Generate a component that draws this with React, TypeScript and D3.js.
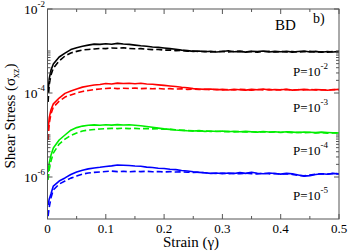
import React from 'react';
import * as d3 from 'd3';

// strain grid shared by all curves
const strain = [0.001, 0.003, 0.006,
  0.01, 0.02, 0.03, 0.04, 0.05, 0.06, 0.07, 0.08, 0.09, 0.10,
  0.11, 0.12, 0.13, 0.14, 0.15, 0.16, 0.17, 0.18, 0.19, 0.20,
  0.21, 0.22, 0.23, 0.24, 0.25, 0.26, 0.27, 0.28, 0.29, 0.30,
  0.31, 0.32, 0.33, 0.34, 0.35, 0.36, 0.37, 0.38, 0.39, 0.40,
  0.41, 0.42, 0.43, 0.44, 0.45, 0.46, 0.47, 0.48, 0.49, 0.50];

// P = 1e-2
const blackSolid = [1.06e-4, 2.2e-4, 3.5e-4,
  4.9e-4, 7.2e-4, 8.9e-4, 1.08e-3, 1.2e-3, 1.3e-3, 1.38e-3, 1.46e-3, 1.44e-3, 1.49e-3,
  1.45e-3, 1.52e-3, 1.47e-3, 1.44e-3, 1.38e-3, 1.33e-3, 1.3e-3, 1.25e-3, 1.22e-3, 1.18e-3,
  1.14e-3, 1.1e-3, 1.05e-3, 1.02e-3, 0.98e-3, 1.0e-3, 0.96e-3, 0.99e-3, 0.95e-3, 0.97e-3,
  1.01e-3, 0.96e-3, 0.98e-3, 0.94e-3, 0.99e-3, 0.97e-3, 1.0e-3, 0.95e-3, 0.98e-3, 0.96e-3,
  0.99e-3, 0.94e-3, 0.97e-3, 1.0e-3, 0.95e-3, 0.98e-3, 0.93e-3, 0.97e-3, 0.95e-3, 0.98e-3];
const blackDash = [6.1e-5, 1.6e-4, 2.7e-4,
  3.9e-4, 5.8e-4, 7.6e-4, 9.0e-4, 9.8e-4, 1.06e-3, 1.09e-3, 1.12e-3, 1.15e-3, 1.14e-3,
  1.18e-3, 1.16e-3, 1.19e-3, 1.15e-3, 1.13e-3, 1.14e-3, 1.1e-3, 1.08e-3, 1.09e-3, 1.05e-3,
  1.06e-3, 1.02e-3, 1.03e-3, 0.99e-3, 1.0e-3, 0.97e-3, 0.99e-3, 0.95e-3, 0.97e-3, 0.98e-3,
  0.95e-3, 0.97e-3, 0.99e-3, 0.96e-3, 0.97e-3, 0.94e-3, 0.97e-3, 0.98e-3, 0.95e-3, 0.97e-3,
  0.95e-3, 0.97e-3, 0.94e-3, 0.96e-3, 0.98e-3, 0.95e-3, 0.96e-3, 0.94e-3, 0.97e-3, 0.95e-3];

// P = 1e-3
const redSolid = [1.3e-5, 2.6e-5, 4.0e-5,
  5.5e-5, 7.6e-5, 9.8e-5, 1.12e-4, 1.24e-4, 1.38e-4, 1.47e-4, 1.55e-4, 1.6e-4, 1.68e-4,
  1.64e-4, 1.72e-4, 1.68e-4, 1.71e-4, 1.66e-4, 1.7e-4, 1.64e-4, 1.61e-4, 1.56e-4, 1.52e-4,
  1.47e-4, 1.43e-4, 1.37e-4, 1.33e-4, 1.27e-4, 1.25e-4, 1.22e-4, 1.24e-4, 1.19e-4, 1.22e-4,
  1.18e-4, 1.23e-4, 1.2e-4, 1.17e-4, 1.22e-4, 1.19e-4, 1.24e-4, 1.18e-4, 1.21e-4, 1.19e-4,
  1.23e-4, 1.17e-4, 1.2e-4, 1.22e-4, 1.18e-4, 1.21e-4, 1.19e-4, 1.16e-4, 1.2e-4, 1.22e-4];
const redDash = [7.6e-6, 1.9e-5, 3.2e-5,
  4.6e-5, 6.4e-5, 8.0e-5, 9.0e-5, 1.0e-4, 1.09e-4, 1.15e-4, 1.21e-4, 1.25e-4, 1.28e-4,
  1.31e-4, 1.27e-4, 1.3e-4, 1.28e-4, 1.31e-4, 1.27e-4, 1.29e-4, 1.26e-4, 1.28e-4, 1.25e-4,
  1.27e-4, 1.24e-4, 1.26e-4, 1.22e-4, 1.24e-4, 1.21e-4, 1.23e-4, 1.2e-4, 1.22e-4, 1.19e-4,
  1.21e-4, 1.18e-4, 1.22e-4, 1.2e-4, 1.17e-4, 1.21e-4, 1.19e-4, 1.22e-4, 1.18e-4, 1.2e-4,
  1.21e-4, 1.17e-4, 1.2e-4, 1.19e-4, 1.22e-4, 1.18e-4, 1.2e-4, 1.17e-4, 1.21e-4, 1.19e-4];

// P = 1e-4
const greenSolid = [1.3e-6, 2.2e-6, 3.3e-6,
  4.9e-6, 7.6e-6, 1.0e-5, 1.3e-5, 1.5e-5, 1.63e-5, 1.7e-5, 1.74e-5, 1.71e-5, 1.76e-5,
  1.72e-5, 1.77e-5, 1.73e-5, 1.75e-5, 1.7e-5, 1.66e-5, 1.6e-5, 1.53e-5, 1.46e-5, 1.4e-5,
  1.36e-5, 1.31e-5, 1.29e-5, 1.26e-5, 1.24e-5, 1.27e-5, 1.22e-5, 1.25e-5, 1.21e-5, 1.24e-5,
  1.2e-5, 1.23e-5, 1.19e-5, 1.22e-5, 1.2e-5, 1.17e-5, 1.21e-5, 1.18e-5, 1.2e-5, 1.16e-5,
  1.19e-5, 1.17e-5, 1.15e-5, 1.18e-5, 1.16e-5, 1.14e-5, 1.17e-5, 1.15e-5, 1.13e-5, 1.12e-5];
const greenDash = [8.5e-7, 1.5e-6, 2.4e-6,
  3.7e-6, 6.1e-6, 8.0e-6, 9.8e-6, 1.12e-5, 1.25e-5, 1.31e-5, 1.35e-5, 1.39e-5, 1.41e-5,
  1.44e-5, 1.42e-5, 1.45e-5, 1.42e-5, 1.44e-5, 1.41e-5, 1.43e-5, 1.4e-5, 1.42e-5, 1.38e-5,
  1.36e-5, 1.33e-5, 1.3e-5, 1.28e-5, 1.26e-5, 1.23e-5, 1.25e-5, 1.21e-5, 1.23e-5, 1.2e-5,
  1.22e-5, 1.19e-5, 1.21e-5, 1.18e-5, 1.2e-5, 1.17e-5, 1.19e-5, 1.16e-5, 1.18e-5, 1.15e-5,
  1.17e-5, 1.14e-5, 1.16e-5, 1.13e-5, 1.15e-5, 1.12e-5, 1.14e-5, 1.11e-5, 1.13e-5, 1.12e-5];

// P = 1e-5
const blueSolid = [2.15e-7, 3.0e-7, 4.0e-7,
  6.1e-7, 8.0e-7, 9.5e-7, 1.15e-6, 1.32e-6, 1.45e-6, 1.56e-6, 1.64e-6, 1.7e-6, 1.78e-6,
  1.84e-6, 1.93e-6, 1.9e-6, 1.88e-6, 1.83e-6, 1.8e-6, 1.72e-6, 1.69e-6, 1.62e-6, 1.6e-6,
  1.53e-6, 1.5e-6, 1.43e-6, 1.39e-6, 1.33e-6, 1.29e-6, 1.26e-6, 1.22e-6, 1.25e-6, 1.2e-6,
  1.24e-6, 1.21e-6, 1.27e-6, 1.22e-6, 1.3e-6, 1.23e-6, 1.2e-6, 1.25e-6, 1.21e-6, 1.17e-6,
  1.22e-6, 1.19e-6, 1.12e-6, 1.05e-6, 1.08e-6, 1.15e-6, 1.2e-6, 1.16e-6, 1.22e-6, 1.18e-6];
const blueDash = [1.17e-7, 1.9e-7, 3.2e-7,
  4.9e-7, 6.8e-7, 8.0e-7, 9.4e-7, 1.05e-6, 1.18e-6, 1.24e-6, 1.29e-6, 1.32e-6, 1.35e-6,
  1.38e-6, 1.34e-6, 1.37e-6, 1.33e-6, 1.36e-6, 1.34e-6, 1.37e-6, 1.33e-6, 1.35e-6, 1.32e-6,
  1.34e-6, 1.31e-6, 1.33e-6, 1.3e-6, 1.28e-6, 1.3e-6, 1.26e-6, 1.23e-6, 1.21e-6, 1.24e-6,
  1.2e-6, 1.22e-6, 1.19e-6, 1.23e-6, 1.2e-6, 1.18e-6, 1.22e-6, 1.19e-6, 1.21e-6, 1.17e-6,
  1.2e-6, 1.15e-6, 1.1e-6, 1.07e-6, 1.12e-6, 1.17e-6, 1.2e-6, 1.17e-6, 1.21e-6, 1.19e-6];

const xTicks = [0, 0.1, 0.2, 0.3, 0.4, 0.5];
const xMinor = [0.05, 0.15, 0.25, 0.35, 0.45];
const yLabelExp = [-2, -4, -6];
const yMinorBase = [1e-6, 1e-4];
const pLabels = [
  { exp: -2, y: 76 },
  { exp: -3, y: 112 },
  { exp: -4, y: 155 },
  { exp: -5, y: 200 },
];

const series = [
  { color: '#000000', solid: blackSolid, dash: blackDash },
  { color: '#ff0000', solid: redSolid, dash: redDash },
  { color: '#00ee00', solid: greenSolid, dash: greenDash },
  { color: '#0000ff', solid: blueSolid, dash: blueDash },
];

const W = 349;
const H = 252;
const left = 47.5, right = 339, top = 9, bottom = 219;
const font = '"Liberation Serif", "Times New Roman", serif';
const axisColor = '#555';

export default function App() {
  const x = d3.scaleLinear().domain([0, 0.5]).range([left, right]);
  const y = d3.scaleLog().domain([1e-7, 1e-2]).range([bottom, top]);

  const line = (vals: number[]) =>
    d3.line<number>()
      .x((_, i) => x(strain[i]))
      .y(d => y(d))(vals) || '';

  const minorY: number[] = [];
  yMinorBase.forEach(b => {
    for (let k = 2; k <= 10; k++) minorY.push(b * k);
  });

  return (
    <svg width={W} height={H} style={{ position: 'fixed', left: 0, top: 0, background: '#fff' }}
      fontFamily={font}>
      <rect x={0} y={0} width={W} height={H} fill="#fff" />

      {/* curves */}
      <g fill="none" strokeWidth={1.6} strokeLinejoin="round">
        {series.map((s, i) => (
          <g key={i} stroke={s.color}>
            <path d={line(s.dash)} strokeDasharray="6,3" />
            <path d={line(s.solid)} />
          </g>
        ))}
      </g>

      {/* frame */}
      <rect x={left} y={top} width={right - left} height={bottom - top}
        fill="none" stroke={axisColor} strokeWidth={1} />

      {/* ticks, pointing inward on all four sides */}
      <g stroke={axisColor} strokeWidth={1}>
        {xTicks.map(t => (
          <g key={t}>
            <line x1={x(t)} x2={x(t)} y1={bottom} y2={bottom - 5} />
            <line x1={x(t)} x2={x(t)} y1={top} y2={top + 5} />
          </g>
        ))}
        {xMinor.map(t => (
          <g key={t}>
            <line x1={x(t)} x2={x(t)} y1={bottom} y2={bottom - 3} />
            <line x1={x(t)} x2={x(t)} y1={top} y2={top + 3} />
          </g>
        ))}
        {yLabelExp.map(e => (
          <g key={e}>
            <line x1={left} x2={left + 5} y1={y(10 ** e)} y2={y(10 ** e)} />
            <line x1={right} x2={right - 5} y1={y(10 ** e)} y2={y(10 ** e)} />
          </g>
        ))}
        {minorY.map((v, i) => (
          <g key={i}>
            <line x1={left} x2={left + 3} y1={y(v)} y2={y(v)} />
            <line x1={right} x2={right - 3} y1={y(v)} y2={y(v)} />
          </g>
        ))}
      </g>

      {/* x tick labels */}
      <g fontSize={13} textAnchor="middle" fill="#000">
        {xTicks.map(t => (
          <text key={t} x={x(t)} y={233}>{t === 0 ? '0' : d3.format('.1f')(t)}</text>
        ))}
      </g>

      {/* y tick labels */}
      <g fontSize={13.5} fill="#000" textAnchor="end">
        {yLabelExp.map(e => (
          <text key={e} x={45} y={y(10 ** e) + 5}>
            10<tspan fontSize={9} dy={-7}>{e}</tspan>
          </text>
        ))}
      </g>

      {/* axis titles */}
      <text x={191} y={247} fontSize={15} textAnchor="middle">Strain (γ)</text>
      <text transform={`translate(15,${(top + bottom) / 2 + 2}) rotate(-90)`} fontSize={15} textAnchor="middle">
        Shear Stress (σ<tspan fontSize={10} dy={4}>xz</tspan><tspan dy={-4}>)</tspan>
      </text>

      {/* annotations */}
      <text x={275} y={30} fontSize={15}>BD</text>
      <text x={313} y={23} fontSize={14}>b)</text>
      {pLabels.map(p => (
        <text key={p.exp} x={293} y={p.y} fontSize={13}>
          P=10<tspan fontSize={9} dy={-7}>{p.exp}</tspan>
        </text>
      ))}
    </svg>
  );
}
